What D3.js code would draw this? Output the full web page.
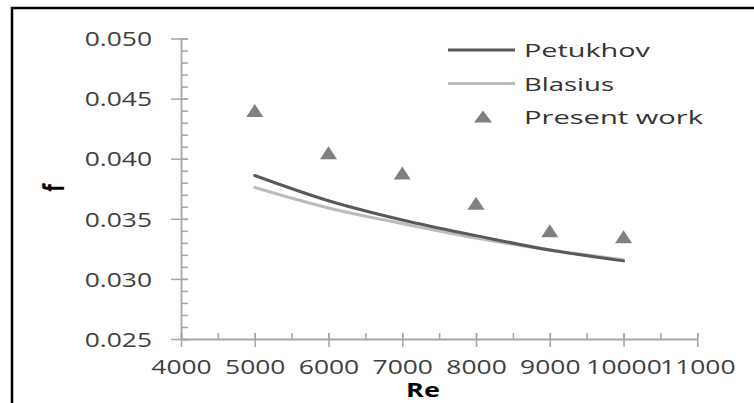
<!DOCTYPE html>
<html>
<head>
<meta charset="utf-8">
<script src="https://cdn.jsdelivr.net/npm/d3@7"></script>
<style>
  html, body { margin: 0; padding: 0; background: #fff; }
  svg { display: block; }
  text { font-family: "Open Sans", "DejaVu Sans", sans-serif; }
</style>
</head>
<body>
<svg id="chart" width="754" height="403"></svg>
<script>
// ---- data ----
const reValues = [5000, 6000, 7000, 8000, 9000, 10000];
const petukhov = [0.0386, 0.0365, 0.0349, 0.0336, 0.0324, 0.0315];
const blasius  = [0.0376, 0.0359, 0.0346, 0.0334, 0.0324, 0.0316];
const present  = [0.0440, 0.0405, 0.0388, 0.0363, 0.0340, 0.0335];
const xTicks = [4000, 5000, 6000, 7000, 8000, 9000, 10000, 11000];
const yTicks = [0.025, 0.030, 0.035, 0.040, 0.045, 0.050];
const seriesNames = ["Petukhov", "Blasius", "Present work"];
const xLabel = "Re";
const yLabel = "f";

const svg = d3.select("#chart");

// frame border
svg.append("rect").attr("x", 12).attr("y", 8).attr("width", 800).attr("height", 420)
  .attr("fill", "none").attr("stroke", "#000").attr("stroke-width", 2.5);

const x = d3.scaleLinear().domain([4000, 11000]).range([181, 697.3]);
const y = d3.scaleLinear().domain([0.025, 0.050]).range([339, 38.5]);

const axisColor = "#a6a6a6";
const stretch = 1.32;

function styleAxis(g) {
  g.selectAll("path.domain").attr("stroke", axisColor).attr("stroke-width", 1.8);
  g.selectAll(".tick line").attr("stroke", axisColor).attr("stroke-width", 1.5);
  g.selectAll(".tick text").attr("fill", "#404040").style("font-size", "20px")
    .style("font-family", "'Open Sans', sans-serif");
}
function stretchText(sel, f) {
  sel.each(function() {
    const len = this.getComputedTextLength();
    if (len > 0) {
      d3.select(this).attr("textLength", len * f).attr("lengthAdjust", "spacingAndGlyphs");
    }
  });
}

// minor ticks (inside)
const yMinor = d3.range(25, 51, 1).map(v => v / 1000);
const xMinor = d3.range(4000, 11001, 500);
const gyMinor = svg.append("g").attr("transform", "translate(181,0)")
  .call(d3.axisRight(y).tickValues(yMinor).tickSize(7).tickFormat(""));
gyMinor.select("path.domain").remove();
styleAxis(gyMinor);
const gxMinor = svg.append("g").attr("transform", "translate(0,339)")
  .call(d3.axisTop(x).tickValues(xMinor).tickSize(6).tickFormat(""));
gxMinor.select("path.domain").remove();
styleAxis(gxMinor);

// major axes
const gy = svg.append("g").attr("transform", "translate(181,0)")
  .call(d3.axisLeft(y).tickValues(yTicks).tickSize(10).tickSizeOuter(0).tickPadding(19).tickFormat(d3.format(".3f")));
styleAxis(gy);
gy.selectAll(".tick text").attr("dy", "0.36em");
stretchText(gy.selectAll(".tick text"), stretch);

const gx = svg.append("g").attr("transform", "translate(0,339)")
  .call(d3.axisBottom(x).tickValues(xTicks).tickSize(8).tickSizeOuter(0).tickPadding(13).tickFormat(d3.format("d")));
styleAxis(gx);
stretchText(gx.selectAll(".tick text"), stretch);
// major ticks crossing above axis
const gxUp = svg.append("g").attr("transform", "translate(0,339)")
  .call(d3.axisTop(x).tickValues(xTicks).tickSize(6).tickFormat(""));
gxUp.select("path.domain").remove();
styleAxis(gxUp);
const gyUp = svg.append("g").attr("transform", "translate(181,0)")
  .call(d3.axisRight(y).tickValues(yTicks).tickSize(7).tickFormat(""));
gyUp.select("path.domain").remove();
styleAxis(gyUp);

// axis titles
const re = svg.append("text").attr("x", 423).attr("y", 397).attr("text-anchor", "middle")
  .attr("font-weight", "bold").attr("fill", "#000").style("font-size", "20px").text(xLabel);
stretchText(re, 1.35);
svg.append("text").attr("transform", "translate(64,188) rotate(-90) scale(1,1.45)")
  .attr("text-anchor", "middle").attr("font-weight", "bold").attr("fill", "#000")
  .style("font-size", "20px").text(yLabel);

// lines
const colors = ["#595959", "#bcbcbc", "#808080"];
const line = d3.line().x((d, i) => x(reValues[i])).y(d => y(d)).curve(d3.curveCatmullRom.alpha(0.5));
svg.append("path").datum(blasius).attr("d", line).attr("fill", "none")
  .attr("stroke", colors[1]).attr("stroke-width", 3).attr("stroke-linecap", "round");
svg.append("path").datum(petukhov).attr("d", line).attr("fill", "none")
  .attr("stroke", colors[0]).attr("stroke-width", 3).attr("stroke-linecap", "round");

// triangles
const tri = (w, h) => `M0,${-h/2}L${w/2},${h/2}L${-w/2},${h/2}Z`;
svg.append("g").selectAll("path").data(present).join("path")
  .attr("transform", (d, i) => `translate(${x(reValues[i])},${y(d)})`)
  .attr("d", tri(17, 13)).attr("fill", colors[2]);

// legend
const legend = svg.append("g");
const legRows = [50, 83.5, 116.5];
const legWidths = [126, 90, 179];
seriesNames.forEach((name, i) => {
  if (i < 2) {
    legend.append("line").attr("x1", 448).attr("x2", 515).attr("y1", legRows[i]).attr("y2", legRows[i])
      .attr("stroke", colors[i]).attr("stroke-width", 3);
  } else {
    legend.append("path").attr("transform", `translate(483,${legRows[i]})`)
      .attr("d", tri(18, 12)).attr("fill", colors[2]);
  }
  legend.append("text").attr("x", 524).attr("y", legRows[i] + 7).attr("fill", "#333")
    .style("font-size", "19px").attr("textLength", legWidths[i]).attr("lengthAdjust", "spacingAndGlyphs")
    .text(name);
});
</script>
</body>
</html>
